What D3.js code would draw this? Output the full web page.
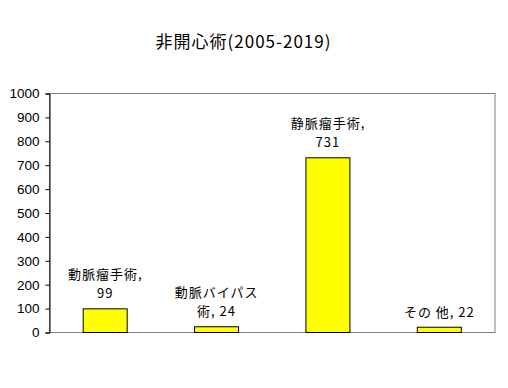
<!DOCTYPE html>
<html><head><meta charset="utf-8">
<script src="https://cdn.jsdelivr.net/npm/d3@7"></script>
<style>
html,body{margin:0;padding:0;background:#fff;}
svg{display:block;font-family:"Noto Sans CJK JP","Noto Sans",sans-serif;}
</style></head>
<body>
<svg id="chart" width="508" height="388"></svg>
<script>
const title = "非開心術(2005-2019)";
const categories = ["動脈瘤手術", "動脈バイパス術", "静脈瘤手術", "その 他"];
const values = [99, 24, 731, 22];
const labelBreaks = [6, 6, 6, null];
const yTicks = [0, 100, 200, 300, 400, 500, 600, 700, 800, 900, 1000];

const svg = d3.select("#chart");
const L = 49.5, R = 495, T = 93.5, B = 332.5;

const x = d3.scaleBand().domain(categories).range([L, R]).padding(0);
const y = d3.scaleLinear().domain([0, 1000]).range([B, T]);
const barW = x.bandwidth() * 0.395;

// plot frame (gray)
svg.append("rect").attr("x", L).attr("y", T).attr("width", R - L).attr("height", B - T)
  .attr("fill", "none").attr("stroke", "#808080").attr("stroke-width", 1);

// bars
svg.append("g").selectAll("rect").data(categories).join("rect")
  .attr("x", d => x(d) + x.bandwidth() / 2 - barW / 2)
  .attr("y", (d, i) => y(values[i]))
  .attr("width", barW)
  .attr("height", (d, i) => B - y(values[i]))
  .attr("fill", "#ffff00").attr("stroke", "#000").attr("stroke-width", 1);

// y axis
const yAxis = svg.append("g").attr("transform", `translate(${L},0)`)
  .call(d3.axisLeft(y).tickValues(yTicks).tickSize(4).tickPadding(6).tickFormat(d3.format("d")));
yAxis.select(".domain").attr("stroke", "#000");
yAxis.selectAll(".tick line").attr("stroke", "#000");
yAxis.selectAll("text").attr("font-size", "13.5px").attr("fill", "#000")
  .attr("font-family", "'Liberation Sans', Arial, sans-serif");

// data labels
const lab = svg.append("g").attr("font-size", "13px").attr("letter-spacing", "1px")
  .attr("fill", "#000").attr("text-anchor", "middle");
categories.forEach((c, i) => {
  const full = `${c}, ${values[i]}`;
  const lines = labelBreaks[i] == null ? [full] :
    [full.slice(0, labelBreaks[i]).trim(), full.slice(labelBreaks[i]).trim()];
  const cx = x(c) + x.bandwidth() / 2;
  const base = y(values[i]) - 10.5;
  lines.forEach((ln, j) => {
    lab.append("text").attr("x", cx)
      .attr("y", base - (lines.length - 1 - j) * 19)
      .text(ln);
  });
});

// title
svg.append("text").attr("x", 243.5).attr("y", 48).attr("text-anchor", "middle")
  .attr("font-size", "17px").attr("letter-spacing", "1px").attr("fill", "#000").text(title);
</script>
</body></html>
